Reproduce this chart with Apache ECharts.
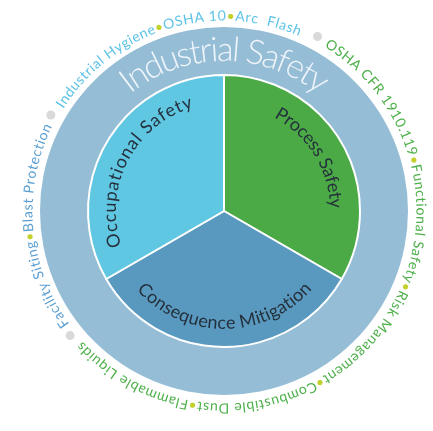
<!DOCTYPE html>
<html>
<head>
<meta charset="utf-8">
<script src="https://cdn.jsdelivr.net/npm/echarts@6/dist/echarts.min.js"></script>
<style>
  html, body { margin: 0; padding: 0; background: #fff; }
  #myChart { width: 433px; height: 431px; }
</style>
</head>
<body>
<div id="myChart"></div>
<script>
// inner pie, clockwise from the top
var sliceNames = ['Process Safety', 'Consequence Mitigation', 'Occupational Safety'];
var sliceValues = [1, 1, 1];
var sliceColors = ['#4baa46', '#5a99bf', '#60c7e3'];

var ringTitle = 'Industrial Safety';

// outer topics, each group sits between two grey dots
var cyanTopics = ['Industrial Hygiene', 'OSHA 10', 'Arc  Flash'];
var greenTopics = ['OSHA CFR 1910.119', 'Functional Safety', 'Risk Management', 'Combustible Dust', 'Flammable Liquids'];
var blueTopics = ['Facility Siting', 'Blast Protection'];

var FONT = 'Lato, "Open Sans", sans-serif';
var cx = 224, cy = 211;
var ctx = document.createElement('canvas').getContext('2d');

// place characters one by one along a circle
// a0 / a1 are degrees clockwise from 12 o'clock (centre of first / last char)
function arcText(chars, o) {
  ctx.font = o.weight + ' ' + o.size + 'px ' + FONT;
  var w = chars.map(function (c) { return ctx.measureText(c.t).width; });
  var n = chars.length;
  var L = o.r * Math.abs(o.a1 - o.a0) * Math.PI / 180;
  var natural = 0;
  for (var j = 0; j < n - 1; j++) natural += w[j];
  natural += w[n - 1] / 2 - w[0] / 2;
  var s = (L - natural) / (n - 1);
  var sign = o.a1 > o.a0 ? 1 : -1;
  var els = [];
  var pos = 0;
  for (var i = 0; i < n; i++) {
    if (i > 0) pos += w[i - 1] / 2 + s + w[i] / 2;
    if (chars[i].t === ' ') continue;
    var th = (o.a0 * Math.PI / 180) + sign * pos / o.r;
    els.push({
      type: 'text',
      x: cx + o.r * Math.sin(th),
      y: cy - o.r * Math.cos(th),
      rotation: o.inward ? Math.PI - th : -th,
      z: 100,
      style: {
        text: chars[i].t,
        fill: chars[i].c || o.color,
        font: o.weight + ' ' + o.size + 'px ' + FONT,
        align: 'center', verticalAlign: 'middle',
        textAlign: 'center', textVerticalAlign: 'middle'
      }
    });
  }
  return els;
}

function toChars(str, color) {
  return str.split('').map(function (t) { return {t: t, c: color}; });
}

function topicChars(list, color) {
  var out = [];
  list.forEach(function (t, i) {
    if (i > 0) out.push({t: '•', c: '#c2d12c'});
    out = out.concat(toChars(t, color));
  });
  return out;
}

var graphics = [];
// outer ring of topics
graphics = graphics.concat(arcText(topicChars(cyanTopics, '#5cc3e6'), {r: 195, a0: -57, a1: 22, size: 14, weight: 400, color: '#5cc3e6'}));
graphics = graphics.concat(arcText(topicChars(greenTopics, '#4db04a'), {r: 197, a0: 33, a1: 226.5, size: 14, weight: 400, color: '#4db04a'}));
graphics = graphics.concat(arcText(topicChars(blueTopics, '#5a9fd1'), {r: 196, a0: 235, a1: 295, size: 14, weight: 400, color: '#5a9fd1'}));
// grey separators
[28.2, 231, 299].forEach(function (a) {
  var th = a * Math.PI / 180;
  graphics.push({
    type: 'circle', z: 100,
    shape: {cx: cx + 198 * Math.sin(th), cy: cy - 198 * Math.cos(th), r: 4.5},
    style: {fill: '#d9d9d9'}
  });
});
// title in the ring
graphics = graphics.concat(arcText(toChars(ringTitle), {r: 161, a0: -37, a1: 36, size: 34, weight: 300, color: '#eef4f9'}));
// slice labels
graphics = graphics.concat(arcText(toChars(sliceNames[2]), {r: 114, a0: 255, a1: 341, size: 18, weight: 400, color: '#24313c'}));
graphics = graphics.concat(arcText(toChars(sliceNames[0]), {r: 112, a0: 31, a1: 86, size: 18, weight: 400, color: '#24313c'}));
graphics = graphics.concat(arcText(toChars(sliceNames[1]), {r: 112, a0: 225, a1: 134, size: 18, weight: 400, color: '#24313c', inward: true}));

var myChart = echarts.init(document.getElementById('myChart'));
var option = {
  animation: false,
  series: [
    {
      type: 'pie',
      center: [cx, cy],
      radius: [0, 184],
      silent: true,
      label: {show: false},
      itemStyle: {color: '#95bdd6'},
      data: [{name: ringTitle, value: 1}]
    },
    {
      type: 'pie',
      center: [cx, cy],
      radius: [0, 136],
      startAngle: 90,
      clockwise: true,
      silent: true,
      label: {show: false},
      itemStyle: {borderColor: '#ffffff', borderWidth: 2},
      data: sliceNames.map(function (n, i) {
        return {name: n, value: sliceValues[i], itemStyle: {color: sliceColors[i]}};
      })
    }
  ],
  graphic: graphics
};
myChart.setOption(option);
</script>
</body>
</html>
